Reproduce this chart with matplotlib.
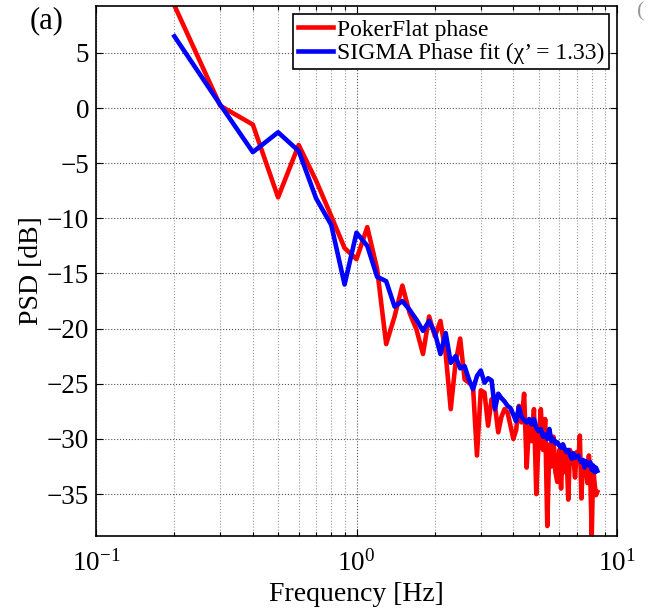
import numpy as np
import matplotlib
matplotlib.use('Agg')
import matplotlib.pyplot as plt
from matplotlib.ticker import LogLocator, FixedLocator, NullFormatter

# -----------------------------
# Data
# -----------------------------
freq_hz = [0.2, 0.3, 0.4, 0.5, 0.6, 0.7, 0.8, 0.9, 1.0, 1.1,
           1.2, 1.3, 1.4, 1.5, 1.6, 1.7, 1.8, 1.9, 2.0, 2.1,
           2.2, 2.3, 2.4, 2.5, 2.6, 2.7, 2.8, 2.9, 3.0, 3.1,
           3.2, 3.3, 3.4, 3.5, 3.6, 3.7, 3.8, 3.9, 4.0, 4.1,
           4.2, 4.3, 4.4, 4.5, 4.6, 4.7, 4.8, 4.9, 5.0, 5.1,
           5.2, 5.3, 5.4, 5.5, 5.6, 5.7, 5.8, 5.9, 6.0, 6.1,
           6.2, 6.3, 6.4, 6.5, 6.6, 6.7, 6.8, 6.9, 7.0, 7.1,
           7.2, 7.3, 7.4, 7.5, 7.6, 7.7, 7.8, 7.9, 8.0, 8.1,
           8.2, 8.3, 8.4]

pokerflat_psd = [9.3, 0.2, -1.5, -8.1, -3.35, -6.6, -9.8, -12.7, -13.7, -10.8,
                 -14.6, -21.4, -18.9, -16.1, -18.6, -20.1, -22.3, -18.9, -20.7, -19.3,
                 -22.3, -27.3, -23.1, -20.9, -24.6, -24.9, -25.2, -31.5, -25.6, -25.8,
                 -28.8, -26.4, -27.0, -29.4, -28.0, -27.3, -27.6, -28.8, -30.0, -29.2,
                 -27.0, -28.5, -25.9, -32.6, -28.5, -30.2, -27.3, -35.0, -30.0, -27.3,
                 -31.0, -28.2, -37.9, -30.5, -32.5, -29.8, -33.0, -33.9, -31.0, -34.5,
                 -30.5, -33.0, -31.2, -35.5, -31.0, -32.0, -31.5, -33.5, -31.2, -32.0,
                 -29.7, -35.4, -32.0, -33.0, -32.5, -34.0, -31.5, -33.5, -38.8, -32.5,
                 -34.0, -35.1, -34.8]

sigma_fit_psd = [6.5, 0.3, -4.0, -2.2, -3.9, -8.2, -10.6, -16.0, -11.3, -12.5,
                 -15.3, -15.7, -18.0, -17.5, -18.3, -19.2, -20.2, -19.3, -20.4, -22.3,
                 -20.4, -23.1, -22.5, -23.6, -23.4, -24.6, -25.5, -24.3, -23.8, -24.9,
                 -24.5, -24.7, -27.3, -25.9, -26.3, -26.6, -27.0, -27.2, -27.8, -28.4,
                 -27.1, -28.0, -28.3, -28.5, -28.2, -28.7, -28.2, -29.0, -29.3, -29.1,
                 -29.8, -29.6, -30.0, -29.1, -30.2, -30.0, -30.4, -30.3, -30.6, -30.8,
                 -30.5, -30.9, -31.2, -31.0, -31.4, -31.8, -31.3, -31.7, -31.6, -31.5,
                 -31.9, -32.1, -31.9, -32.6, -32.0, -32.3, -32.4, -32.1, -32.8, -32.4,
                 -33.0, -32.6, -32.9]

y_ticks = [-35, -30, -25, -20, -15, -10, -5, 0, 5]

# -----------------------------
# Style
# -----------------------------
plt.rcParams['font.family'] = ['Liberation Serif', 'DejaVu Serif']
plt.rcParams['mathtext.fontset'] = 'custom'
plt.rcParams['mathtext.rm'] = 'Liberation Serif'
plt.rcParams['mathtext.it'] = 'Liberation Serif:italic'
plt.rcParams['font.size'] = 19.5

fig = plt.figure(figsize=(6.54, 6.08), dpi=100)
ax = fig.add_axes([96 / 654, 72 / 608, 521 / 654, 530 / 608])

ax.plot(freq_hz, pokerflat_psd, color='#ff0000', lw=3.3, label='PokerFlat phase')
ax.plot(freq_hz, sigma_fit_psd, color='#0000ff', lw=3.3,
        label='SIGMA Phase fit (\u03c7\u2019 = 1.33)')

ax.set_xscale('log')
ax.set_xlim(0.1, 10)
ax.set_ylim(-38.8, 9.25)
ax.yaxis.set_major_locator(FixedLocator(y_ticks))
ax.xaxis.set_major_locator(LogLocator(base=10, numticks=5))
ax.xaxis.set_minor_locator(LogLocator(base=10, subs=np.arange(2, 10), numticks=10))
ax.xaxis.set_minor_formatter(NullFormatter())

ax.grid(True, which='major', linestyle=':', color='#555555', lw=0.8)
ax.grid(True, which='minor', axis='x', linestyle=':', color='#999999', lw=0.8)

ax.tick_params(which='both', direction='in', top=True, right=True,
               labelsize=19.5, width=0.8)
ax.tick_params(which='major', length=5)
ax.tick_params(which='minor', length=3)
ax.tick_params(axis='x', which='major', pad=10)
ax.tick_params(axis='y', which='major', pad=5)
for sp in ax.spines.values():
    sp.set_linewidth(1.2)

ax.set_xlabel('Frequency [Hz]', fontsize=20, labelpad=4)
ax.set_ylabel('PSD [dB]', fontsize=20, labelpad=2)

leg = ax.legend(loc='upper right', fontsize=17, frameon=True, fancybox=False,
                framealpha=1, edgecolor='black', handlelength=1.5,
                handletextpad=0.15, borderpad=0.2, labelspacing=0.1,
                borderaxespad=0.35)
leg.get_frame().set_linewidth(1.2)

fig.text(30 / 654, 1 - 21 / 608, '(a)', fontsize=22, va='center', ha='left')
fig.text(637 / 654, 1 - 12 / 608, '(', fontsize=16, va='center', ha='left',
         color='#999999')

fig.savefig('out.png', dpi=100)
